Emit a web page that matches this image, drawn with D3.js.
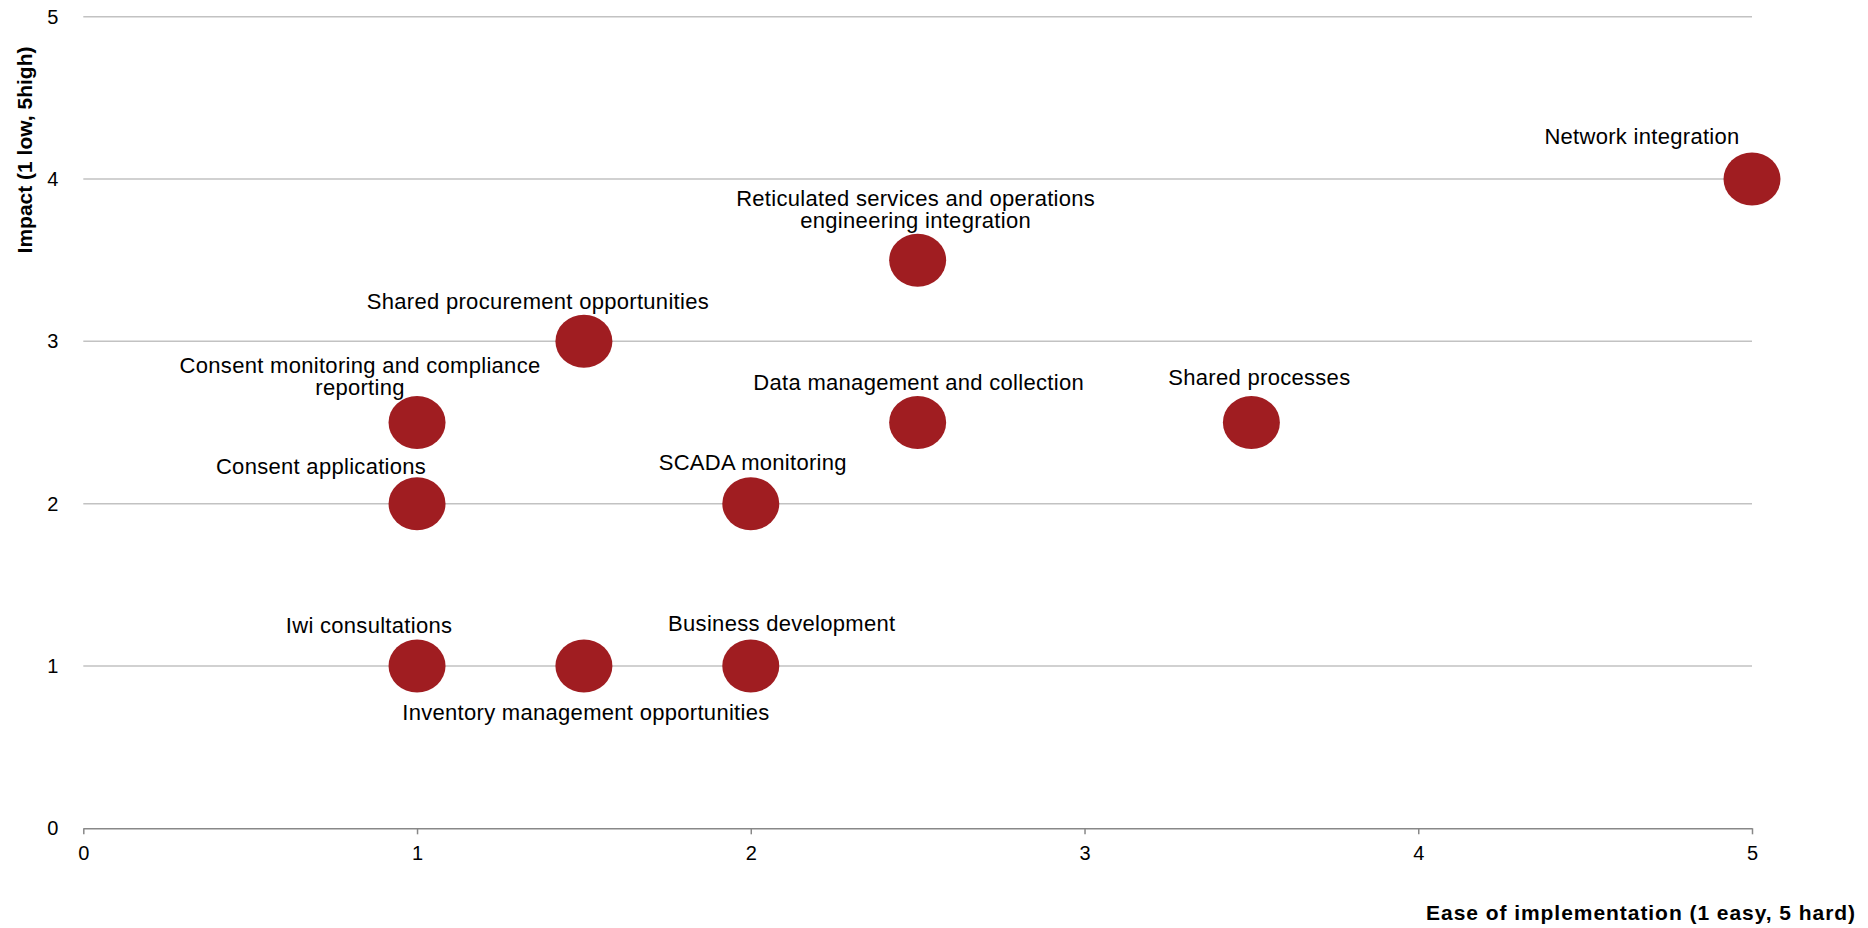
<!DOCTYPE html>
<html>
<head>
<meta charset="utf-8">
<script src="https://cdn.jsdelivr.net/npm/d3@7/dist/d3.min.js"></script>
<style>
  html, body { margin: 0; padding: 0; background: #fff; }
  svg { display: block; font-family: "Liberation Sans", Arial, sans-serif; }
</style>
</head>
<body>
<svg id="chart" width="1868" height="928"></svg>
<script>
// ---- Data ----
const names = [
  "Network integration",
  "Reticulated services and operations\nengineering integration",
  "Shared procurement opportunities",
  "Consent monitoring and compliance\nreporting",
  "Data management and collection",
  "Shared processes",
  "Consent applications",
  "SCADA monitoring",
  "Iwi consultations",
  "Inventory management opportunities",
  "Business development"
];
const ease   = [5, 2.5, 1.5, 1, 2.5, 3.5, 1, 2, 1, 1.5, 2];
const impact = [4, 3.5, 3, 2.5, 2.5, 2.5, 2, 2, 1, 1, 1];
const xTicks = [0, 1, 2, 3, 4, 5];
const yTicks = [0, 1, 2, 3, 4, 5];
const xTitle = "Ease of implementation (1 easy, 5 hard)";
const yTitle = "Impact (1 low, 5high)";

// ---- Label layout (pixel offsets of each label from its marker) ----
const labelDx = [-110, -2, -46, -57, 1, 8, -96, 2, -48, 2, 31];
const labelDy = [-35, -54, -32, -50, -33, -38, -30, -34, -33, 54, -35];

// ---- Layout ----
const W = 1868, H = 928;
const plot = { left: 83.3, right: 1752, top: 16.7, bottom: 828.3 };
const svg = d3.select("#chart");

const x = d3.scaleLinear().domain([0, 5]).range([plot.left, plot.right]);
const y = d3.scaleLinear().domain([0, 5]).range([plot.bottom, plot.top]);

// Gridlines
svg.append("g")
  .selectAll("line")
  .data(yTicks.filter(d => d > 0))
  .join("line")
  .attr("x1", plot.left).attr("x2", plot.right)
  .attr("y1", d => y(d)).attr("y2", d => y(d))
  .attr("stroke", "#c2c2c2").attr("stroke-width", 1.5);

// X axis
const xAxis = svg.append("g")
  .attr("transform", `translate(0,${plot.bottom})`)
  .call(d3.axisBottom(x).tickValues(xTicks).tickFormat(d3.format("d")).tickSize(6).tickPadding(12).tickSizeOuter(0));
xAxis.select(".domain").attr("stroke", "#888").attr("stroke-width", 1.5);
xAxis.selectAll(".tick line").attr("stroke", "#888").attr("stroke-width", 1.5);
xAxis.selectAll(".tick text").attr("font-size", 20).attr("fill", "#000")
  .attr("font-family", "Liberation Sans, Arial, sans-serif");

// Y axis labels (no line)
const yAxis = svg.append("g")
  .attr("transform", `translate(${plot.left},0)`)
  .call(d3.axisLeft(y).tickValues(yTicks).tickFormat(d3.format("d")).tickSize(0).tickPadding(25));
yAxis.select(".domain").remove();
yAxis.selectAll(".tick text").attr("font-size", 20).attr("fill", "#000")
  .attr("font-family", "Liberation Sans, Arial, sans-serif");

// Axis titles
svg.append("text")
  .attr("x", 1856).attr("y", 920)
  .attr("text-anchor", "end")
  .attr("font-size", 21).attr("font-weight", "bold")
  .attr("letter-spacing", 0.95)
  .attr("fill", "#000")
  .text(xTitle);

svg.append("text")
  .attr("transform", `translate(32,150) rotate(-90)`)
  .attr("text-anchor", "middle")
  .attr("font-size", 21).attr("font-weight", "bold")
  .attr("fill", "#000")
  .text(yTitle);

// Markers
const pts = names.map((n, i) => ({ name: n, x: ease[i], y: impact[i], dx: labelDx[i], dy: labelDy[i] }));

svg.append("g")
  .selectAll("ellipse")
  .data(pts)
  .join("ellipse")
  .attr("cx", d => x(d.x)).attr("cy", d => y(d.y))
  .attr("rx", 28.5).attr("ry", 26.5)
  .attr("fill", "#a01d21");

// Labels
const lbl = svg.append("g")
  .selectAll("text")
  .data(pts)
  .join("text")
  .attr("text-anchor", "middle")
  .attr("font-size", 22)
  .attr("letter-spacing", 0.3)
  .attr("fill", "#000");

lbl.each(function(d) {
  const lines = d.name.split("\n");
  const t = d3.select(this);
  const cx = x(d.x) + d.dx;
  const baseY = y(d.y) + d.dy;
  lines.forEach((ln, k) => {
    t.append("tspan")
      .attr("x", cx)
      .attr("y", baseY + k * 22)
      .text(ln);
  });
});
</script>
</body>
</html>
